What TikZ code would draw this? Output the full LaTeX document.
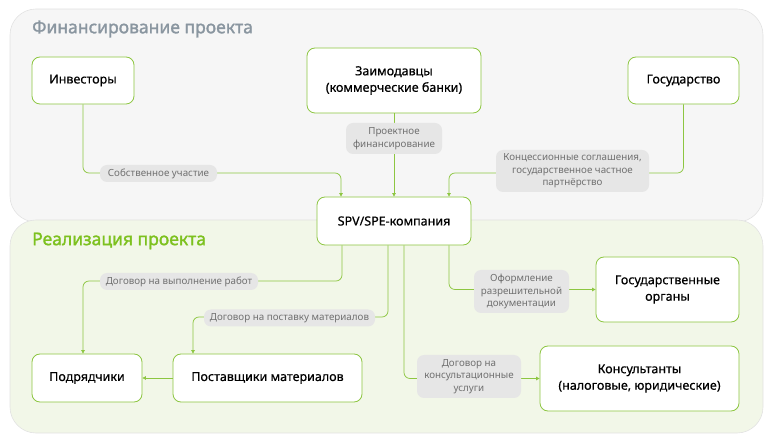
\documentclass[tikz,border=0pt]{standalone}
\usepackage{fontspec}
\setmainfont{Noto Sans}
\newfontfamily\headfont{Noto Sans}[FakeBold=1.6]
\newfontfamily\boxfont{Noto Sans}[FakeBold=0.5]
\usetikzlibrary{arrows.meta,positioning,calc}
\definecolor{lgreen}{HTML}{8DC641}
\definecolor{titlegreen}{HTML}{7DC11F}
\definecolor{titlegray}{HTML}{8A96A0}
\definecolor{panelgray}{HTML}{F6F6F6}
\definecolor{panelgreen}{HTML}{F2F7E8}
\definecolor{panelline}{HTML}{E2E2E2}
\definecolor{tagfill}{HTML}{E6E6E6}
\definecolor{taggray}{HTML}{707070}
\begin{document}
\begin{tikzpicture}[x=1pt,y=-1pt,
    box/.style={draw=lgreen,line width=0.8pt,fill=white,rounded corners=8pt,align=center,inner sep=0pt,
        font=\boxfont\fontsize{12.5}{16.5}\selectfont},
    tag/.style={fill=tagfill,rounded corners=7pt,align=center,inner sep=0pt,text=taggray,
        font=\fontsize{9.8}{12.5}\selectfont},
    link/.style={draw=lgreen,line width=0.75pt,rounded corners=6pt,-{Triangle[length=3.5pt,width=3.5pt]}},
    panel/.style={rounded corners=26pt,line width=0.6pt,draw=panelline},
    head/.style={anchor=west,inner sep=0pt,font=\headfont\fontsize{17.5}{20}\selectfont}]

    \useasboundingbox (0,0) rectangle (771,443);
    \filldraw[panel,fill=panelgray] (10,9) rectangle (763,222);
    \filldraw[panel,fill=panelgreen] (10,220) rectangle (763,433);
    \node[head,text=titlegray] (T1) at (32,29) {Финансирование проекта};
    \node[head,text=titlegreen] (T2) at (32,241) {Реализация проекта};

    \node[box,minimum width=102,minimum height=47] (A) at (83,80.5) {Инвесторы};
    \node[box,minimum width=174,minimum height=65] (B) at (394,80.5) {Заимодавцы\\(коммерческие банки)};
    \node[box,minimum width=111,minimum height=47] (C) at (683.5,80.5) {Государство};
    \node[box,minimum width=154,minimum height=48] (D) at (394,221) {SPV/SPE-компания};
    \node[box,minimum width=110,minimum height=48] (E) at (87,378) {Подрядчики};
    \node[box,minimum width=189,minimum height=48] (F) at (267.5,378) {Поставщики материалов};
    \node[box,minimum width=143,minimum height=65] (G) at (667.5,289.5) {Государственные\\органы};
    \node[box,minimum width=199,minimum height=65] (H) at (639.5,378.5) {Консультанты\\(налоговые, юридические)};

    \coordinate (AA) at (341,173);
    \coordinate (CC) at (449,173);
    \coordinate (EE) at (83,281);
    \coordinate (FF) at (193,317);

    \draw[link] (A) |- (AA) -- (AA |- D.north);
    \draw[link] (B) -- (B |- D.north);
    \draw[link] (C) |- (CC) -- (CC |- D.north);
    \draw[link] ([xshift=-52]D.south) |- (EE) -- (EE |- E.north);
    \draw[link] ([xshift=-6]D.south) |- (FF) -- (FF |- F.north);
    \draw[link] ([xshift=55]D.south) |- (G);
    \draw[link] ([xshift=10]D.south) |- (H);
    \draw[link] (F) -- (E);

    \node[tag,minimum width=117,minimum height=17] (L1) at (158.5,173.5) {Собственное участие};
    \node[tag,minimum width=96,minimum height=31] (L2) at (394,138.5) {Проектное\\финансирование};
    \node[tag,minimum width=153,minimum height=42] (L3) at (572.5,171) {Концессионные соглашения,\\государственное частное\\партнёрство};
    \node[tag,minimum width=158,minimum height=17] (L4) at (179,281.5) {Договор на выполнение работ};
    \node[tag,minimum width=171,minimum height=17] (L5) at (289.5,318) {Договор на поставку материалов};
    \node[tag,minimum width=95,minimum height=43] (L6) at (521.5,291.5) {Оформление\\разрешительной\\документации};
    \node[tag,minimum width=104,minimum height=43] (L7) at (469,376.5) {Договор на\\консультационные\\услуги};
\end{tikzpicture}
\end{document}
